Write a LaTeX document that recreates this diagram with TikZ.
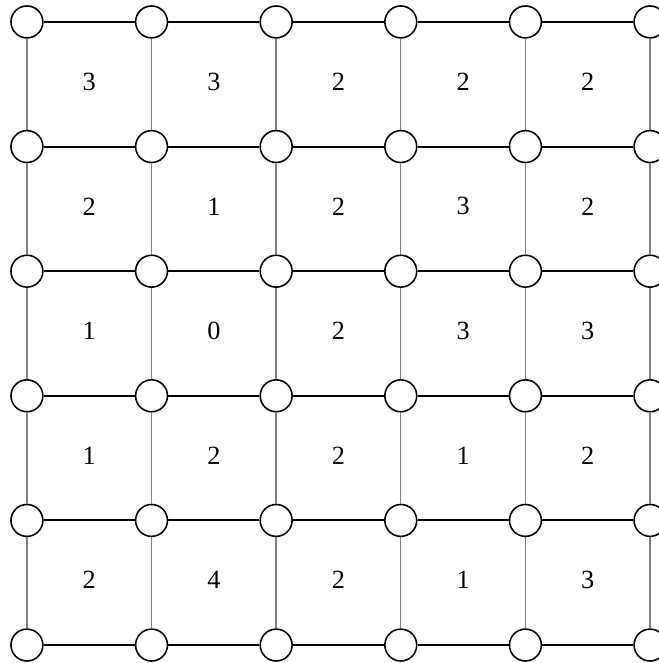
\documentclass[tikz,border=0pt]{standalone}
\usepackage{fontspec}
\setmainfont{Liberation Serif}
\usetikzlibrary{positioning}
\tikzset{
  vertex/.style={circle, draw, line width=0.9pt, fill=white, minimum size=0.64cm, inner sep=0pt},
  hedge/.style={line width=1.2pt, black},
  vedge/.style={line width=0.8pt, gray},
  cellnum/.style={font=\fontsize{15}{17}\selectfont}
}
\begin{document}
\begin{tikzpicture}
  \useasboundingbox (-0.54,-0.36) rectangle (12.66,12.94);
  % lattice points
  \foreach \i in {0,...,5}
    \foreach \j in {0,...,5}
      \node[vertex] (v\i\j) at (2.5*\i,2.5*\j) {};
  % edges
  \foreach \i in {0,...,4} {
    \pgfmathtruncatemacro{\k}{\i+1}
    \foreach \j in {0,...,5} {
      \draw[hedge] (v\i\j) -- (v\k\j);
      \draw[vedge] (v\j\i) -- (v\j\k);
    }
  }
  % cell values, top row first
  \foreach \row [count=\r] in {{3,3,2,2,2},{2,1,2,3,2},{1,0,2,3,3},{1,2,2,1,2},{2,4,2,1,3}}
    \foreach \n [count=\c] in \row
      \node[cellnum] (n\r\c) at (2.5*\c-1.25, 13.8-2.5*\r) {\n};
\end{tikzpicture}
\end{document}
